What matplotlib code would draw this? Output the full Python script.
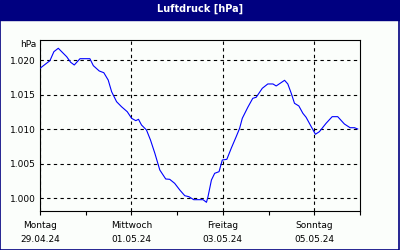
import matplotlib.pyplot as plt
from matplotlib.patches import Rectangle
from matplotlib.ticker import FuncFormatter

# Luftdruck, hours since Mon 29.04.24 00:00
hours = [0, 5.2, 7.3, 9.6, 14.0, 16.1, 18.0, 21.0, 26.2, 28.0, 31.1, 33.5, 35.8,
         37.6, 40.2, 42.8, 45.8, 48.1, 50.3, 51.7, 53.3, 55.9, 58.0, 60.3, 62.9,
         66.0, 68.1, 70.7, 73.4, 76.0, 78.2, 80.7, 85.6, 87.4, 88.2, 90.0, 91.7,
         94.0, 95.7, 98.1, 100.4, 103.0, 104.8, 106.2, 109.1, 111.7, 113.5, 116.7,
         119.6, 122.3, 124.0, 126.1, 128.4, 130.1, 131.9, 133.6, 135.9, 138.0,
         139.7, 142.4, 144.6, 146.7, 150.2, 153.4, 156.3, 159.8, 162.8, 165.1, 166.8]
druck = [1018.84, 1019.94, 1021.25, 1021.74, 1020.52, 1019.71, 1019.32, 1020.23,
         1020.23, 1019.22, 1018.45, 1018.2, 1017.14, 1015.45, 1014.0, 1013.27,
         1012.55, 1011.59, 1011.25, 1011.45, 1010.62, 1009.9, 1008.45, 1006.52,
         1004.1, 1002.8, 1002.75, 1002.17, 1001.2, 1000.38, 1000.23, 999.8, 999.8,
         999.42, 1000.23, 1002.65, 1003.62, 1003.86, 1005.55, 1005.65, 1007.25,
         1008.93, 1010.14, 1011.59, 1013.19, 1014.49, 1014.64, 1015.94, 1016.57,
         1016.57, 1016.28, 1016.67, 1017.1, 1016.57, 1015.22, 1013.77, 1013.38,
         1012.32, 1011.74, 1010.38, 1009.28, 1009.66, 1010.87, 1011.83, 1011.83,
         1010.77, 1010.23, 1010.23, 1010.04]

tage = ["Montag\n29.04.24", "Mittwoch\n01.05.24", "Freitag\n03.05.24", "Sonntag\n05.05.24"]
tag_pos = [0, 48, 96, 144]
y_ticks = [1000, 1005, 1010, 1015, 1020]

plt.rcParams['font.family'] = 'DejaVu Sans'
bg = '#fbfefb'
navy = '#000080'

fig = plt.figure(figsize=(4, 2.5), dpi=100, facecolor=bg)
ax = fig.add_axes([0.1, 0.156, 0.8, 0.684], facecolor=bg)

ax.plot(hours, druck, color='#0000ff', lw=0.8, zorder=3)

ax.set_xlim(0, 168)
ax.set_ylim(998.16, 1022.94)
ax.set_xticks(tag_pos)
ax.set_xticklabels(tage, fontsize=6.5, linespacing=1.75)
ax.set_xticks([24, 72, 120, 168], minor=True)
ax.set_yticks(y_ticks)
ax.yaxis.set_major_formatter(FuncFormatter(lambda v, p: "1.%03d" % (v - 1000)))
ax.tick_params(axis='y', length=0, pad=3, labelsize=6.5)
ax.tick_params(axis='x', which='both', length=3, width=0.8, direction='out', pad=4)
ax.grid(True, color='black', lw=0.8, linestyle=(0, (3, 3)))
for s in ax.spines.values():
    s.set_linewidth(0.8)

ax.text(-0.01, 1.0, "hPa", transform=ax.transAxes, ha='right', va='top', fontsize=6.5)

# title bar and frame
fig.patches.append(Rectangle((0, 0.92), 1, 0.08, transform=fig.transFigure,
                             color=navy, zorder=0))
fig.patches.append(Rectangle((0.001, 0.002), 0.997, 0.996, transform=fig.transFigure,
                             fill=False, edgecolor=navy, lw=1.2))
fig.text(0.5, 0.965, "Luftdruck [hPa]", color='white', fontsize=7, fontweight='bold',
         ha='center', va='center')

plt.savefig("out.png", dpi=100, facecolor=bg)
